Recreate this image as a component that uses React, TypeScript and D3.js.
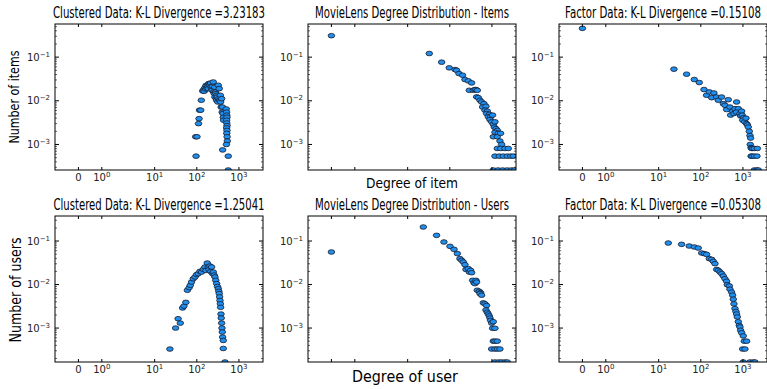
import React from "react";
import * as d3 from "d3";

const WIDTH = 767;
const HEIGHT = 389;

// degree, fraction of nodes
const clusteredItems = [
  [96, 5.4e-4], [94, 1.5e-3], [101, 1.5e-3], [110, 3.0e-3], [113, 3.9e-3], [116, 6.1e-3],
  [124, 6.1e-3], [128, 0.0103], [138, 0.0168], [146, 0.018], [150, 0.0165], [156, 0.02],
  [162, 0.0185], [166, 0.0225], [172, 0.0195], [178, 0.0228], [183, 0.0205], [188, 0.019],
  [192, 0.0248], [198, 0.0245], [205, 0.0225], [213, 0.0255], [218, 0.021], [225, 0.019],
  [230, 0.0174], [238, 0.0215], [246, 0.027], [250, 0.016], [259, 0.0146], [265, 0.0205],
  [269, 0.0122], [278, 0.016], [285, 0.0146], [290, 0.0112], [295, 0.0103], [300, 0.0134],
  [306, 0.0122], [315, 0.0094], [323, 0.0227], [330, 0.0112], [341, 0.019], [345, 0.0103],
  [355, 0.0103], [362, 0.0134], [368, 0.0094], [378, 0.0072], [389, 0.0112], [400, 0.0055],
  [405, 0.0072], [418, 0.0051], [425, 0.0042], [432, 0.0036], [411, 7.5e-4], [500, 0.0065],
  [511, 0.0055], [515, 0.0047], [520, 0.0042], [511, 0.0036], [515, 0.0031], [522, 0.0027],
  [511, 0.0024], [520, 0.0021], [515, 0.0018], [524, 0.0015], [529, 0.0012], [505, 0.001],
  [558, 5.4e-4], [558, 2.6e-4],
];

const movielensItems = [
  [0, 0.31], [32.6, 0.121], [64, 0.0767], [97, 0.0569], [133, 0.052], [145, 0.05],
  [165, 0.0421], [201, 0.0386], [229, 0.0307], [275, 0.0286], [330, 0.0257], [290, 0.0174],
  [361, 0.0174], [395, 0.0181], [418, 0.0181], [450, 0.0174], [433, 0.0123], [475, 0.0118],
  [520, 0.0103], [569, 0.0094], [647, 0.0086], [601, 0.0072], [721, 0.0075], [683, 0.0061],
  [776, 0.0058], [748, 0.0051], [865, 0.0049], [819, 0.0043], [931, 0.0043], [898, 0.0037],
  [1038, 0.0047], [984, 0.0033], [1077, 0.0029], [1180, 0.0033], [1137, 0.0025], [1246, 0.0023],
  [1340, 0.0021], [1180, 0.0019], [1416, 0.0018], [1077, 0.0015], [1340, 0.0015], [1607, 0.0018],
  [1550, 0.0012], [1698, 0.001], [1340, 8.1e-4], [1607, 8.1e-4], [2039, 8.1e-4], [2444, 8.1e-4],
  [1180, 5.4e-4], [1496, 5.4e-4], [1861, 5.4e-4], [2314, 5.4e-4], [2776, 5.4e-4], [3209, 5.4e-4],
  [1077, 2.6e-4], [1400, 2.6e-4], [1800, 2.6e-4], [2300, 2.6e-4], [2900, 2.6e-4], [3428, 2.6e-4],
];

const factorItems = [
  [0, 0.456], [23, 0.053], [46, 0.0407], [70, 0.0307], [92, 0.0262], [119, 0.0181],
  [137, 0.0134], [159, 0.016], [205, 0.0151], [181, 0.0118], [237, 0.0122], [260, 0.0103],
  [312, 0.0122], [342, 0.0086], [374, 0.0079], [449, 0.0106], [410, 0.0063], [492, 0.0072],
  [510, 0.0047], [569, 0.0058], [612, 0.0051], [708, 0.0094], [650, 0.0066], [776, 0.0066],
  [700, 0.0055], [850, 0.0051], [931, 0.0058], [880, 0.0045], [960, 0.0047], [1030, 0.0041],
  [990, 0.0036], [1100, 0.0033], [1180, 0.004], [1220, 0.003], [1280, 0.0028], [1340, 0.0025],
  [1416, 0.002], [1469, 0.0016], [1523, 0.0014], [1490, 0.001], [1560, 8.5e-4], [1600, 8.1e-4],
  [1700, 8.1e-4], [1880, 8.1e-4], [2200, 8.1e-4], [1560, 5.4e-4], [1650, 5.4e-4], [1860, 5.4e-4],
  [2150, 5.4e-4], [1860, 2.6e-4], [2150, 2.6e-4], [2316, 2.6e-4],
];

const clusteredUsers = [
  [23, 3.3e-4], [31.4, 1.0e-3], [36, 1.64e-3], [40.6, 1.3e-3], [46, 2.9e-3], [49.6, 3.2e-3],
  [55, 3.9e-3], [59.7, 7.4e-3], [66, 8.5e-3], [70, 9.6e-3], [75, 0.0114], [82.6, 0.0136],
  [90.4, 0.0149], [99, 0.0169], [108, 0.0178], [119, 0.0201], [130, 0.0194], [143, 0.0224],
  [156, 0.0253], [165, 0.021], [177, 0.0312], [187, 0.0253], [195, 0.022], [205, 0.0267],
  [215, 0.02], [225, 0.0253], [235, 0.018], [246, 0.0194], [258, 0.0165], [270, 0.0149],
  [282, 0.0125], [296, 0.0105], [310, 0.009], [324, 0.008], [333, 0.007], [341, 0.0062],
  [348, 0.0052], [355, 0.0043], [362, 0.0036], [368, 0.003], [375, 0.0021], [380, 0.0017],
  [389, 0.0013], [396, 0.001], [403, 8.1e-4], [410, 6.2e-4], [425, 5.2e-4], [425, 3.4e-4],
  [466, 1.66e-4],
];

const movielensUsers = [
  [0, 0.056], [23.5, 0.21], [48.6, 0.135], [72.6, 0.095], [101, 0.0755], [126, 0.0644],
  [151, 0.0513], [174, 0.0394], [191, 0.036], [209, 0.033], [229, 0.0286], [242, 0.0223],
  [275, 0.0232], [290, 0.0194], [312, 0.0212], [330, 0.0187], [348, 0.0125], [374, 0.011],
  [395, 0.0105], [418, 0.0125], [433, 0.0114], [449, 0.0074], [500, 0.007], [538, 0.0065],
  [520, 0.0062], [569, 0.0057], [624, 0.0038], [683, 0.0036], [748, 0.0033], [721, 0.0026],
  [776, 0.0023], [819, 0.0021], [865, 0.0019], [898, 0.0017], [931, 0.0015], [984, 0.0013],
  [1077, 0.0014], [1038, 9.9e-4], [1180, 9.9e-4], [1077, 5.0e-4], [1180, 5.0e-4], [1340, 5.0e-4],
  [984, 3.3e-4], [1180, 3.3e-4], [1340, 3.3e-4], [1550, 3.3e-4], [1180, 1.66e-4], [1450, 1.66e-4],
  [1700, 1.66e-4], [2039, 1.66e-4], [2314, 1.66e-4],
];

const factorUsers = [
  [16.9, 0.09], [35, 0.084], [53, 0.0769], [70, 0.073], [87, 0.069], [105, 0.0531],
  [121, 0.0513], [137, 0.0494], [159, 0.0394], [181, 0.0379], [198, 0.0341], [217, 0.0302],
  [238, 0.0223], [260, 0.0212], [285, 0.0194], [312, 0.0178], [342, 0.0157], [374, 0.0136],
  [410, 0.0119], [425, 0.0099], [475, 0.0093], [492, 0.0078], [538, 0.0067], [569, 0.0057],
  [590, 0.0046], [612, 0.0036], [647, 0.0028], [683, 0.0024], [708, 0.0021], [735, 0.0018],
  [776, 0.0014], [819, 0.00115], [850, 0.00106], [881, 8.9e-4], [931, 7.8e-4], [1019, 6.6e-4],
  [1077, 5.0e-4], [1224, 5.0e-4], [984, 3.3e-4], [1117, 3.3e-4], [1019, 1.66e-4], [1469, 1.66e-4],
  [1762, 1.66e-4], [1928, 1.66e-4],
];

const titles = [
  "Clustered Data: K-L Divergence =3.23183",
  "MovieLens Degree Distribution - Items",
  "Factor Data: K-L Divergence =0.15108",
  "Clustered Data: K-L Divergence =1.25041",
  "MovieLens Degree Distribution - Users",
  "Factor Data: K-L Divergence =0.05308",
];
const titleWidths = [212, 194, 196, 211, 194, 196];

const xTickValues = [0, 1, 10, 100, 1000];
const xTickExps = ["", "0", "1", "2", "3"];
const yTickValues = [0.1, 0.01, 0.001];
const yTickExps = ["\u22121", "\u22122", "\u22123"];

const xDomain = [-1, 3726];
const yDomains = [
  [2.6e-4, 0.574],
  [1.66e-4, 0.376],
];

const panelLefts = [55, 308, 559];
const rowTops = [24, 216];
const PW = 208;
const PH = 146;
const TITLE_SQUEEZE = 0.62;

// matplotlib-style symlog (linthresh 2, linscale 1)
const LINTHRESH = 2;
const LINSCALE = 1 / (1 - 1 / 10);
function symlog(v) {
  const a = Math.abs(v);
  if (a <= LINTHRESH) return v * LINSCALE;
  return Math.sign(v) * LINTHRESH * (LINSCALE + Math.log10(a / LINTHRESH));
}

const FONT = "DejaVu Sans, sans-serif";

function Panel(props) {
  const idx = props.idx;
  const data = props.data;
  const row = Math.floor(idx / 3);
  const col = idx % 3;
  const left = panelLefts[col];
  const top = rowTops[row];
  const bottom = top + PH;
  const right = left + PW;

  const xs = d3.scaleLinear().domain(xDomain.map(symlog)).range([left, right]);
  const x = (v) => xs(symlog(v));
  const y = d3.scaleLog().domain(yDomains[row]).range([bottom, top]);

  const minor = [];
  for (let e = -5; e <= 0; e++) {
    for (let k = 2; k <= 9; k++) {
      const v = k * Math.pow(10, e);
      if (v > yDomains[row][0] && v < yDomains[row][1]) minor.push(v);
    }
  }
  const showXLabels = col !== 1;
  const clipId = "clip" + idx;

  return (
    <g>
      <clipPath id={clipId}>
        <rect x={left} y={top} width={PW} height={PH} />
      </clipPath>
      <text
        transform={
          "translate(" + (left + right) / 2 + "," + (top - 6) + ") scale(" + TITLE_SQUEEZE + ",1)"
        }
        textAnchor="middle"
        fontFamily={FONT}
        fontSize={15}
        textLength={titleWidths[idx] / TITLE_SQUEEZE}
        lengthAdjust="spacingAndGlyphs"
      >
        {titles[idx]}
      </text>
      <g clipPath={"url(#" + clipId + ")"}>
        {data.map((d, i) => (
          <ellipse
            key={i}
            cx={x(d[0])}
            cy={y(d[1])}
            rx={3.3}
            ry={2.3}
            fill="#1f8ff0"
            stroke="#1a1a2a"
            strokeWidth={0.8}
          />
        ))}
      </g>
      <rect x={left} y={top} width={PW} height={PH} fill="none" stroke="#000" strokeWidth={1} />
      {xTickValues.map((v, i) => (
        <g key={"xt" + i}>
          <line x1={x(v)} x2={x(v)} y1={top} y2={top + 3} stroke="#000" />
          <line x1={x(v)} x2={x(v)} y1={bottom} y2={bottom - 3} stroke="#000" />
          {showXLabels && (
            <text
              x={x(v)}
              y={bottom + 11}
              textAnchor="middle"
              fontFamily={FONT}
              fontSize={10}
              fill="#222"
            >
              {xTickExps[i] === "" ? (
                "0"
              ) : (
                <>
                  <tspan>10</tspan>
                  <tspan dy={-4} fontSize={7}>
                    {xTickExps[i]}
                  </tspan>
                </>
              )}
            </text>
          )}
        </g>
      ))}
      {minor.map((v, i) => (
        <g key={"ym" + i}>
          <line x1={left} x2={left + 2} y1={y(v)} y2={y(v)} stroke="#000" strokeWidth={0.6} />
          <line x1={right} x2={right - 2} y1={y(v)} y2={y(v)} stroke="#000" strokeWidth={0.6} />
        </g>
      ))}
      {yTickValues.map((v, i) => (
        <g key={"yt" + i}>
          <line x1={left} x2={left + 4} y1={y(v)} y2={y(v)} stroke="#000" />
          <line x1={right} x2={right - 4} y1={y(v)} y2={y(v)} stroke="#000" />
          <text
            x={left - 5}
            y={y(v) + 3.5}
            textAnchor="end"
            fontFamily={FONT}
            fontSize={10}
            fill="#222"
          >
            <tspan>10</tspan>
            <tspan dy={-4} fontSize={7}>
              {yTickExps[i]}
            </tspan>
          </text>
        </g>
      ))}
    </g>
  );
}

const panelData = [
  clusteredItems,
  movielensItems,
  factorItems,
  clusteredUsers,
  movielensUsers,
  factorUsers,
];

export default function App() {
  return (
    <svg
      width={WIDTH}
      height={HEIGHT}
      style={{ position: "absolute", left: 0, top: 0, background: "#fff" }}
    >
      {panelData.map((d, i) => (
        <Panel key={i} idx={i} data={d} />
      ))}
      <text
        transform="translate(19,97) rotate(-90)"
        textAnchor="middle"
        fontFamily={FONT}
        fontSize={14}
        textLength={93}
        lengthAdjust="spacingAndGlyphs"
      >
        Number of items
      </text>
      <text
        transform="translate(21,290) rotate(-90)"
        textAnchor="middle"
        fontFamily={FONT}
        fontSize={15}
        textLength={105}
        lengthAdjust="spacingAndGlyphs"
      >
        Number of users
      </text>
      <text
        x={412}
        y={188}
        textAnchor="middle"
        fontFamily={FONT}
        fontSize={14}
        textLength={92}
        lengthAdjust="spacingAndGlyphs"
      >
        Degree of item
      </text>
      <text
        x={405}
        y={382}
        textAnchor="middle"
        fontFamily={FONT}
        fontSize={16}
        textLength={106}
        lengthAdjust="spacingAndGlyphs"
      >
        Degree of user
      </text>
    </svg>
  );
}
